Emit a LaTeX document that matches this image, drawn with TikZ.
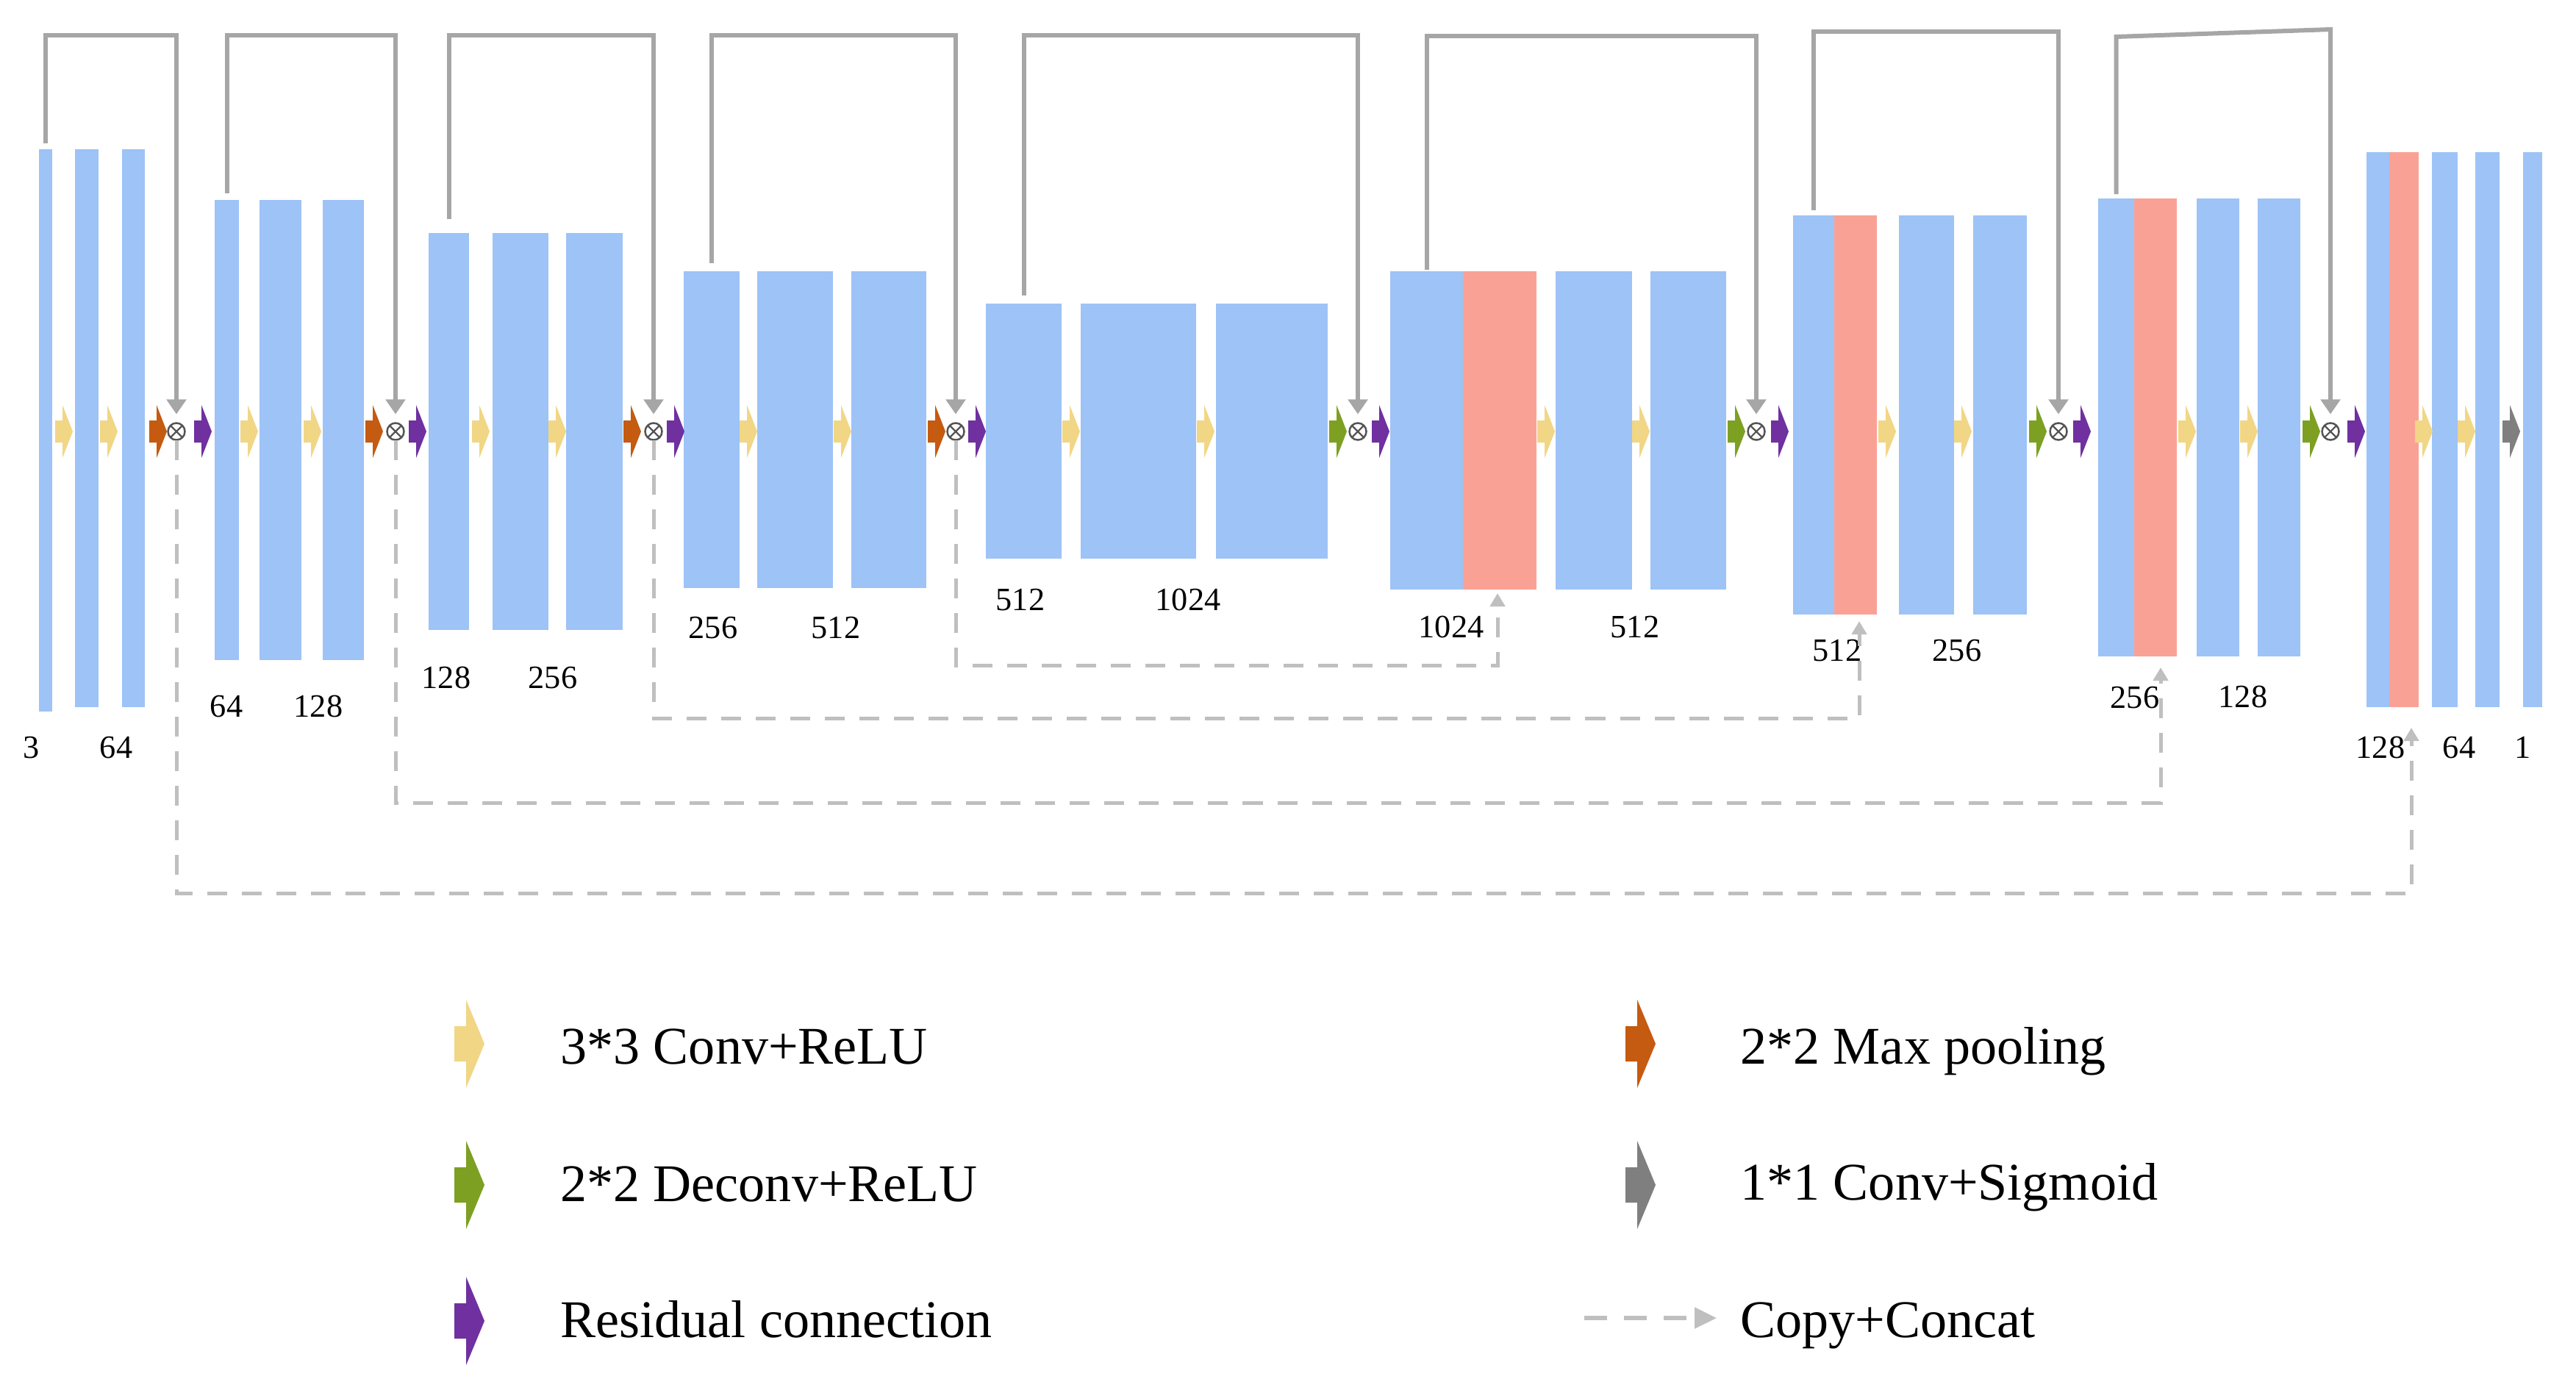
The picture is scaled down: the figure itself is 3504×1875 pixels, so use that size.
\documentclass[tikz,border=0pt]{standalone}
\usepackage{fontspec}
\setmainfont{Liberation Serif}
\usetikzlibrary{arrows.meta}
\definecolor{fblue}{RGB}{157,195,247}
\definecolor{fred}{RGB}{250,161,150}
\definecolor{cyel}{RGB}{241,214,134}
\definecolor{corg}{RGB}{197,90,17}
\definecolor{cgrn}{RGB}{125,160,35}
\definecolor{cpur}{RGB}{112,48,160}
\definecolor{cgry}{RGB}{127,127,127}
\definecolor{skipc}{RGB}{166,166,166}
\definecolor{copyc}{RGB}{191,191,191}
\definecolor{xc}{RGB}{85,85,85}
\newcommand{\fmap}[6]{\node[#1, minimum width={(#5-#3)*0.01cm}, minimum height={(#6-#4)*0.01cm}] (#2) at ({(#3+#5)/2},{(#4+#6)/2}) {};}
\tikzset{
  fm/.style={rectangle, fill=fblue, draw=none, inner sep=0pt, outer sep=0pt},
  fc/.style={rectangle, fill=fred, draw=none, inner sep=0pt, outer sep=0pt},
  mul/.style={circle, draw=xc, fill=white, line width=0.025cm, minimum size=0.23cm, inner sep=0pt, outer sep=0pt,
    path picture={\draw[xc, line width=0.022cm] (path picture bounding box.north west) -- (path picture bounding box.south east)
      (path picture bounding box.north east) -- (path picture bounding box.south west);}},
  skipline/.style={color=skipc, line width=0.06cm, -{Triangle[width=0.26cm,length=0.2cm]}},
  copyline/.style={color=copyc, line width=0.05cm, dash pattern=on 0.27cm off 0.2cm, -{Triangle[width=0.2cm,length=0.18cm]}},
  num/.style={font=\fontsize{12.6}{14}\selectfont, inner sep=0pt},
  leg/.style={font=\fontsize{20.5}{24}\selectfont, anchor=base west, inner sep=0pt},
  pics/flow/.style={code={\fill[#1] (0,-15) -- (10,-15) -- (10,-36) -- (24,0) -- (10,36) -- (10,15) -- (0,15) -- cycle;}},
  pics/legflow/.style={code={\fill[#1] (0,-24) -- (16,-24) -- (16,-60) -- (41,0) -- (16,60) -- (16,24) -- (0,24) -- cycle;}},
}
\begin{document}
\begin{tikzpicture}[x=0.01cm, y=-0.01cm]
\useasboundingbox (0,0) rectangle (3504,1875);
% ---------- feature maps ----------
\fmap{fm}{b11}{53}{203}{71}{968}
\fmap{fm}{b12}{102}{203}{134}{962}
\fmap{fm}{b13}{166}{203}{197}{962}
\fmap{fm}{b21}{292}{272}{325}{898}
\fmap{fm}{b22}{353}{272}{410}{898}
\fmap{fm}{b23}{439}{272}{495}{898}
\fmap{fm}{b31}{583}{317}{638}{857}
\fmap{fm}{b32}{670}{317}{746}{857}
\fmap{fm}{b33}{770}{317}{847}{857}
\fmap{fm}{b41}{930}{369}{1006}{800}
\fmap{fm}{b42}{1030}{369}{1133}{800}
\fmap{fm}{b43}{1158}{369}{1260}{800}
\fmap{fm}{b51}{1341}{413}{1444}{760}
\fmap{fm}{b52}{1470}{413}{1627}{760}
\fmap{fm}{b53}{1654}{413}{1806}{760}
\fmap{fm}{b61}{1891}{369}{1990}{802}
\fmap{fc}{r6}{1990}{369}{2090}{802}
\fmap{fm}{b62}{2116}{369}{2220}{802}
\fmap{fm}{b63}{2245}{369}{2348}{802}
\fmap{fm}{b71}{2439}{293}{2495}{836}
\fmap{fc}{r7}{2495}{293}{2553}{836}
\fmap{fm}{b72}{2583}{293}{2658}{836}
\fmap{fm}{b73}{2684}{293}{2757}{836}
\fmap{fm}{b81}{2854}{270}{2903}{893}
\fmap{fc}{r8}{2903}{270}{2961}{893}
\fmap{fm}{b82}{2988}{270}{3046}{893}
\fmap{fm}{b83}{3071}{270}{3129}{893}
\fmap{fm}{b91}{3219}{207}{3250}{962}
\fmap{fc}{r9}{3250}{207}{3290}{962}
\fmap{fm}{b92}{3308}{207}{3343}{962}
\fmap{fm}{b93}{3367}{207}{3400}{962}
\fmap{fm}{b94}{3432}{207}{3458}{962}
% ---------- channel numbers ----------
\node[num] (n11) at (43,1017) {3};
\node[num] (n12) at (158,1017) {64};
\node[num] (n21) at (308,961) {64};
\node[num] (n22) at (433,961) {128};
\node[num] (n31) at (607,922) {128};
\node[num] (n32) at (752,922) {256};
\node[num] (n41) at (970,854) {256};
\node[num] (n42) at (1137,854) {512};
\node[num] (n51) at (1388,816) {512};
\node[num] (n52) at (1616,816) {1024};
\node[num] (n61) at (1974,853) {1024};
\node[num] (n62) at (2224,853) {512};
\node[num] (n71) at (2499,885) {512};
\node[num] (n72) at (2662,885) {256};
\node[num] (n81) at (2904,949) {256};
\node[num] (n82) at (3051,948) {128};
\node[num] (n91) at (3238,1017) {128};
\node[num] (n92) at (3345,1017) {64};
\node[num] (n93) at (3432,1017) {1};
% ---------- operation arrows ----------
\foreach \x in {75,136,327,413,642,746,1006,1134,1445,1628,2091,2220,2555,2658,2963,3047,3285,3343}
  \pic at (\x,587) {flow=cyel};
\foreach \x in {203,497,848,1262} \pic at (\x,587) {flow=corg};
\foreach \x in {1808,2350,2760,3132} \pic at (\x,587) {flow=cgrn};
\foreach \x in {264,556,907,1317,1866,2409,2820,3193} \pic at (\x,587) {flow=cpur};
\pic at (3404,587) {flow=cgry};
% ---------- merge nodes ----------
\node[mul] (m1) at (240,587) {};
\node[mul] (m2) at (538,587) {};
\node[mul] (m3) at (889,587) {};
\node[mul] (m4) at (1300,587) {};
\node[mul] (m5) at (1847,587) {};
\node[mul] (m6) at (2389,587) {};
\node[mul] (m7) at (2800,587) {};
\node[mul] (m8) at (3170,587) {};
% ---------- residual connections ----------
\coordinate (t1) at (240,48);
\coordinate (t2) at (538,48);
\coordinate (t3) at (889,48);
\coordinate (t4) at (1300,48);
\coordinate (t5) at (1847,48);
\coordinate (t6) at (2389,49);
\coordinate (t7) at (2800,43);
\draw[skipline] ([yshift=0.08cm]b11.north) |- (t1) -- ([yshift=0.12cm]m1.north);
\draw[skipline] ([yshift=0.09cm]b21.north) |- (t2) -- ([yshift=0.12cm]m2.north);
\draw[skipline] ([yshift=0.19cm]b31.north) |- (t3) -- ([yshift=0.12cm]m3.north);
\draw[skipline] ([yshift=0.11cm]b41.north) |- (t4) -- ([yshift=0.12cm]m4.north);
\draw[skipline] ([yshift=0.11cm]b51.north) |- (t5) -- ([yshift=0.12cm]m5.north);
\draw[skipline] ([yshift=0.02cm]b61.north) |- (t6) -- ([yshift=0.12cm]m6.north);
\draw[skipline] ([yshift=0.07cm]b71.north) |- (t7) -- ([yshift=0.12cm]m7.north);
\draw[skipline] ([yshift=0.06cm]b81.north) -- (b81.north |- 0,50) -- (m8.north |- 0,40) -- ([yshift=0.12cm]m8.north);
% ---------- copy + concat ----------
\coordinate (c6) at (2037,807);
\coordinate (c7) at (2529,845);
\coordinate (c8) at (2939,908);
\coordinate (c9) at (3280,990);
\draw[copyline] (m4.south) |- (c6 |- 0,905) -- (c6);
\draw[copyline] (m3.south) |- (c7 |- 0,977) -- (c7);
\draw[copyline] (m2.south) |- (c8 |- 0,1092) -- (c8);
\draw[copyline] (m1.south) |- (c9 |- 0,1215) -- (c9);
% ---------- legend ----------
\pic at (618,1420) {legflow=cyel};
\pic at (618,1612) {legflow=cgrn};
\pic at (618,1797) {legflow=cpur};
\pic at (2211,1420) {legflow=corg};
\pic at (2211,1612) {legflow=cgry};
\coordinate (la) at (2155,1793);
\coordinate (lb) at (2335,1793);
\draw[copyline, line width=0.055cm, dash pattern=on 0.31cm off 0.23cm, -{Triangle[width=0.28cm,length=0.3cm]}] (la) -- (lb);
\node[leg] (g1) at (762,1447) {3*3 Conv+ReLU};
\node[leg] (g2) at (762,1634) {2*2 Deconv+ReLU};
\node[leg] (g3) at (762,1819) {Residual connection};
\node[leg] (g4) at (2367,1447) {2*2 Max pooling};
\node[leg] (g5) at (2367,1632) {1*1 Conv+Sigmoid};
\node[leg] (g6) at (2367,1819) {Copy+Concat};
\end{tikzpicture}
\end{document}
